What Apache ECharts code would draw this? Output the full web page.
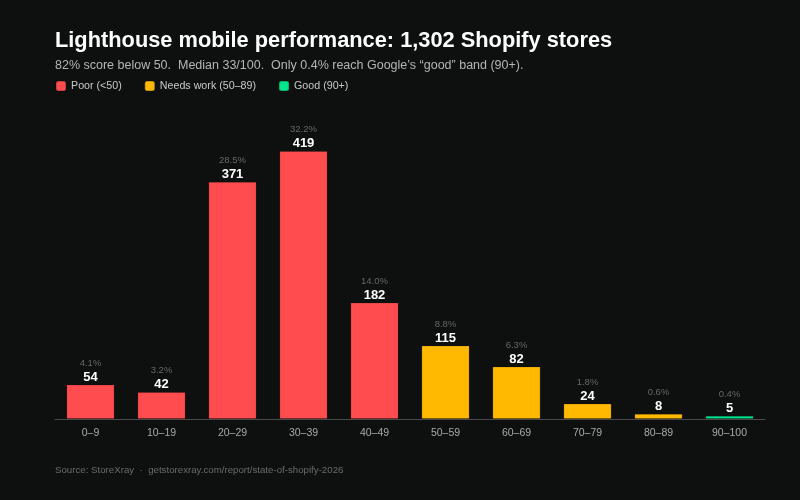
<!DOCTYPE html>
<html>
<head>
<meta charset="utf-8">
<script src="https://cdn.jsdelivr.net/npm/echarts@6/dist/echarts.min.js"></script>
<style>
  html, body { margin: 0; padding: 0; background: #0e1010; }
  #chart { width: 800px; height: 500px; }
</style>
</head>
<body>
<div id="chart"></div>
<script>
var categories = ['0–9', '10–19', '20–29', '30–39', '40–49', '50–59', '60–69', '70–79', '80–89', '90–100'];
var counts = [54, 42, 371, 419, 182, 115, 82, 24, 8, 5];
var pctLabels = ['4.1%', '3.2%', '28.5%', '32.2%', '14.0%', '8.8%', '6.3%', '1.8%', '0.6%', '0.4%'];
// which band each bucket belongs to: 0 poor, 1 needs work, 2 good
var bandOf = [0, 0, 0, 0, 0, 1, 1, 1, 1, 2];
var bandNames = ['Poor (<50)', 'Needs work (50–89)', 'Good (90+)'];
var bandColors = ['#ff4d4f', '#ffb900', '#00e58c'];

var font = 'Liberation Sans, Arial, sans-serif';

function bandData(b) {
    return counts.map(function (v, i) {
        return bandOf[i] === b ? v : '-';
    });
}

var series = bandNames.map(function (name, b) {
    return {
        name: name,
        type: 'bar',
        stack: 'all',
        barWidth: 48,
        data: bandData(b),
        itemStyle: { color: bandColors[b], borderColor: 'rgba(0,0,0,0.2)', borderWidth: 0.8 },
        label: {
            show: true,
            position: 'top',
            distance: 0,
            formatter: function (p) {
                return '{p|' + pctLabels[p.dataIndex] + '}\n{v|' + p.value + '}';
            },
            rich: {
                p: { fontSize: 9.5, color: '#666666', fontFamily: font, lineHeight: 13, align: 'center' },
                v: { fontSize: 13, color: '#ffffff', fontWeight: 'bold', fontFamily: font, lineHeight: 15, align: 'center' }
            }
        }
    };
});

var chart = echarts.init(document.getElementById('chart'));
var option = {
    backgroundColor: '#0e1010',
    animation: false,
    title: [
        {
            text: 'Lighthouse mobile performance: 1,302 Shopify stores',
            left: 55,
            top: 30,
            padding: 0,
            textStyle: { color: '#ffffff', fontSize: 21.8, fontWeight: 'bold', fontFamily: font }
        },
        {
            text: '82% score below 50.  Median 33/100.  Only 0.4% reach Google\u2019s \u201cgood\u201d band (90+).',
            left: 55,
            top: 59,
            padding: 0,
            textStyle: { color: '#b5b5b5', fontSize: 12.5, fontWeight: 'normal', fontFamily: font }
        },
        {
            text: 'Source: StoreXray  \u00b7  getstorexray.com/report/state-of-shopify-2026',
            left: 55,
            top: 465,
            padding: 0,
            textStyle: { color: '#6a6a6a', fontSize: 9.7, fontWeight: 'normal', fontFamily: font }
        }
    ],
    legend: {
        left: 55,
        top: 80,
        padding: 0,
        icon: 'roundRect',
        itemWidth: 10,
        itemHeight: 10,
        itemGap: 22,
        textStyle: { color: '#c8c8c8', fontSize: 10.7, fontFamily: font },
        data: bandNames
    },
    grid: {
        left: 55,
        right: 35,
        top: 125,
        bottom: 81
    },
    xAxis: {
        type: 'category',
        data: categories,
        axisLine: { lineStyle: { color: '#4a4a4a', width: 1 } },
        axisTick: { show: false },
        axisLabel: { color: '#a8a8a8', fontSize: 10.5, fontFamily: font, margin: 9 }
    },
    yAxis: {
        type: 'value',
        min: 0,
        max: 460,
        show: false,
        splitLine: { show: false }
    },
    series: series
};
chart.setOption(option);
</script>
</body>
</html>
